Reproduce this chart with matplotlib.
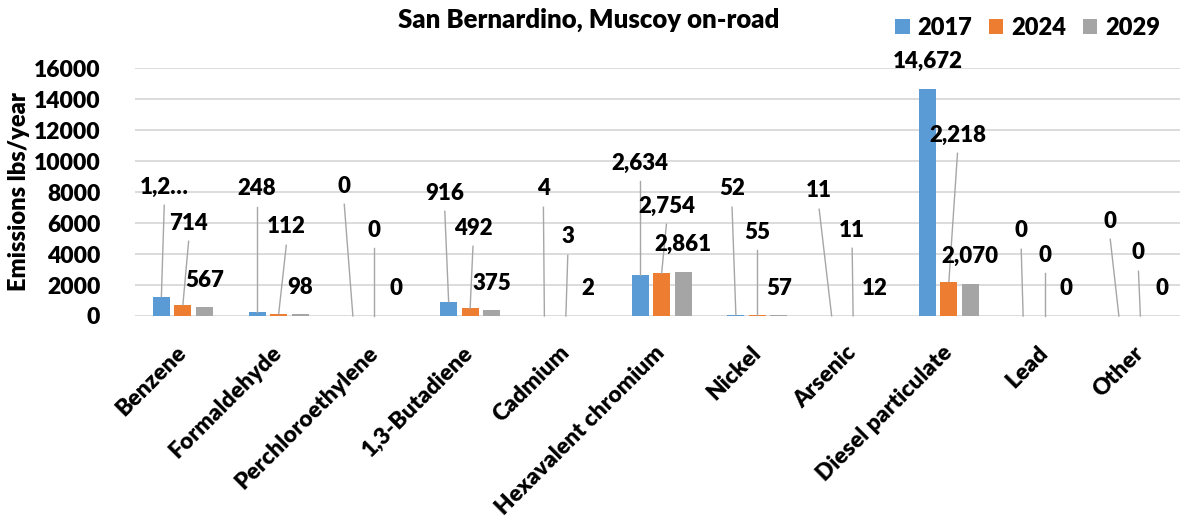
import matplotlib
matplotlib.use("Agg")
import matplotlib.pyplot as plt
from matplotlib.font_manager import FontProperties
import numpy as np

categories = ["Benzene", "Formaldehyde", "Perchloroethylene", "1,3-Butadiene",
              "Cadmium", "Hexavalent chromium", "Nickel", "Arsenic",
              "Diesel particulate", "Lead", "Other"]
years = ["2017", "2024", "2029"]
v2017 = [1253, 248, 0, 916, 4, 2634, 52, 11, 14672, 0, 0]
v2024 = [714, 112, 0, 492, 3, 2754, 55, 11, 2218, 0, 0]
v2029 = [567, 98, 0, 375, 2, 2861, 57, 12, 2070, 0, 0]
series = [v2017, v2024, v2029]
colors = ["#5B9BD5", "#ED7D31", "#A5A5A5"]

# Hand-placed data labels (x shift in category units, label height in data units);
# None keeps the label directly above its bar.
lab_dx = [
    [0.03, 0.0, -0.09, -0.04, -0.01, 0.0, -0.04, -0.13, None, -0.02, -0.09],
    [0.06, 0.08, 0.0, 0.03, 0.02, 0.05, 0.0, -0.01, 0.09, 0.0, -0.02],
    [None] * 11,
]
lab_y = [
    [8323, 8194, 8387, 7935, 8194, 9871, 8194, 8065, None, 5484, 6129],
    [6000, 5742, 5548, 5677, 5097, 7097, 5419, 5548, 11677, 3935, 4065],
    [None] * 11,
]
truncated = {(0, 0)}

font = FontProperties(family="Lato", weight=800, size=16)
tick_font = FontProperties(family="Lato", weight=800, size=16.5)
big_font = FontProperties(family="Lato", weight=800, size=17)
title_font = FontProperties(family="Lato", weight=800, size=18.5)

W, H = 1180, 525
fig = plt.figure(figsize=(W / 100, H / 100), dpi=100)
px_cat = 95.75
left, right, top, bottom = 135, 1180, 68, 316
ax = fig.add_axes([left / W, 1 - bottom / H, (right - left) / W, (bottom - top) / H])

x = np.arange(len(categories))
step = 0.2245
width = 0.178

for k, (vals, col, yr) in enumerate(zip(series, colors, years)):
    xs = x + (k - 1) * step
    ax.bar(xs, vals, width=width, color=col, label=yr, zorder=3)
    for i, v in enumerate(vals):
        txt = f"{v:,.0f}"
        if (k, i) in truncated:
            txt = txt[:3] + "…"
        dx = lab_dx[k][i]
        if dx is None:
            ax.annotate(txt, (xs[i], v), xytext=(0, 19.5), textcoords="offset points",
                        ha="center", va="center", fontproperties=font,
                        annotation_clip=False, zorder=5)
        else:
            lx, ly = xs[i] + dx, lab_y[k][i]
            ax.text(lx, ly, txt, ha="center", va="center", fontproperties=font,
                    zorder=5, clip_on=False)
            ax.plot([lx, xs[i]], [ly - 1180, v], color="#A6A6A6", lw=1.0,
                    zorder=4, clip_on=False)

ax.set_xlim(-0.5, -0.5 + (right - left) / px_cat)
ax.set_ylim(0, 16000)
ax.set_yticks(np.arange(0, 16001, 2000))
ax.set_yticklabels([f"{t:d}" for t in range(0, 16001, 2000)], fontproperties=tick_font)
ax.yaxis.grid(True, color="#D9D9D9", lw=1.3, zorder=0)
ax.set_axisbelow(True)
for s in ax.spines.values():
    s.set_visible(False)
ax.tick_params(axis="both", length=0)
ax.tick_params(axis="y", pad=25)

ax.set_xticks(x)
ax.set_xticklabels(categories, rotation=45, ha="right", rotation_mode="anchor",
                   va="center", fontproperties=tick_font)
ax.tick_params(axis="x", pad=24)

fig.text(19 / W, 1 - 192 / H, "Emissions lbs/year", rotation=90, ha="center",
         va="center", fontproperties=big_font)
fig.text(589 / W, 1 - 20 / H, "San Bernardino, Muscoy on-road", ha="center",
         va="center", fontproperties=title_font)

fig.legend(loc="center right", bbox_to_anchor=(1174 / W, 1 - 28 / H), ncol=3,
           frameon=False, prop=big_font, handlelength=0.6, handleheight=0.6,
           handletextpad=0.34, columnspacing=0.7, borderpad=0.1)

fig.savefig("out.png", dpi=100)
